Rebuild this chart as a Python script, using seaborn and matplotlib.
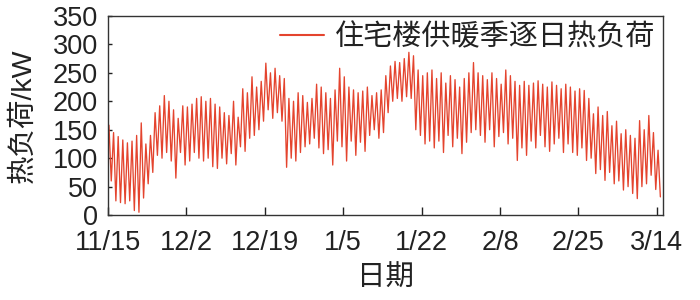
import numpy as np
import pandas as pd
import matplotlib
matplotlib.use("Agg")
import matplotlib.pyplot as plt
import seaborn as sns

# Daily peak and trough of heating load (kW), 11/15 .. 3/14
peaks = [158, 145, 138, 132, 127, 130, 140, 162, 125, 140,
         180, 192, 210, 200, 185, 170, 192, 190, 195, 205,
         208, 200, 205, 195, 190, 180, 175, 200, 172, 222,
         215, 243, 225, 235, 267, 250, 258, 245, 240, 205,
         200, 215, 210, 198, 205, 230, 225, 215, 205, 220,
         258, 243, 225, 220, 215, 218, 225, 210, 215, 220,
         245, 262, 270, 268, 275, 286, 280, 255, 245, 250,
         255, 240, 250, 232, 245, 238, 225, 240, 250, 268,
         250, 245, 238, 250, 240, 230, 255, 245, 235, 228,
         235, 228, 232, 236, 230, 225, 234, 228, 222, 230,
         225, 218, 222, 219, 205, 178, 190, 175, 182, 157,
         165, 143, 150, 140, 135, 166, 150, 175, 145, 114]
troughs = [60, 25, 22, 20, 25, 8, 5, 30, 55, 75,
           105, 100, 110, 95, 65, 110, 88, 95, 110, 100,
           95, 100, 85, 82, 100, 90, 108, 88, 120, 112,
           135, 140, 150, 165, 185, 170, 180, 165, 84, 100,
           95, 110, 120, 125, 135, 118, 108, 115, 88, 130,
           120, 95, 130, 105, 128, 112, 140, 150, 135, 145,
           180, 200, 205, 200, 208, 205, 150, 140, 125, 130,
           118, 130, 110, 140, 120, 135, 108, 128, 145, 150,
           140, 128, 150, 120, 138, 145, 125, 135, 96, 118,
           105, 130, 118, 140, 120, 112, 125, 135, 110, 125,
           110, 105, 118, 96, 100, 73, 80, 61, 75, 55,
           60, 44, 50, 38, 29, 50, 55, 70, 45, 32]
tick_days = [0, 17, 34, 51, 68, 85, 102, 119]
tick_labels = ["11/15", "12/2", "12/19", "1/5", "1/22", "2/8", "2/25", "3/14"]
y_ticks = [0, 50, 100, 150, 200, 250, 300, 350]
series_name = "住宅楼供暖季逐日热负荷"

days = np.arange(len(peaks))
x = np.column_stack([days + 0.25, days + 0.75]).ravel()
y = np.column_stack([peaks, troughs]).ravel()
df = pd.DataFrame({"day": x, "load": y, "series": series_name})

sns.set_style("ticks")
plt.rcParams["font.family"] = ["Liberation Sans", "Noto Sans CJK SC", "DejaVu Sans"]

fig = plt.figure(figsize=(7, 3), dpi=100)
ax = fig.add_axes([0.154, 0.283, 0.793, 0.664])
sns.lineplot(data=df, x="day", y="load", hue="series", palette=["#E4442E"],
             estimator=None, sort=False, linewidth=0.95, ax=ax)

ax.set_xlim(0, 120.3)
ax.set_ylim(0, 350)
ax.set_xticks(tick_days)
ax.set_xticklabels(tick_labels)
ax.set_yticks(y_ticks)
ax.tick_params(axis="both", labelsize=19.5, direction="in", colors="#222222")
ax.tick_params(axis="x", length=6, width=1, pad=11)
ax.tick_params(axis="y", length=3, width=1, pad=7)
for s in ax.spines.values():
    s.set_color("#333333")
    s.set_linewidth(1)
    s.set_visible(True)
ax.set_xlabel("日期", fontsize=20.5, labelpad=7, color="#222222")
ax.set_ylabel("热负荷/kW", fontsize=20.5, labelpad=12, color="#222222")

leg = ax.legend(loc="upper right", frameon=False, fontsize=21,
                handlelength=1.5, handletextpad=0.4, borderaxespad=0.1,
                borderpad=0.15)
for t in leg.get_texts():
    t.set_color("#222222")
for h in leg.get_lines():
    h.set_linewidth(1.5)

fig.savefig("out.png", dpi=100)
